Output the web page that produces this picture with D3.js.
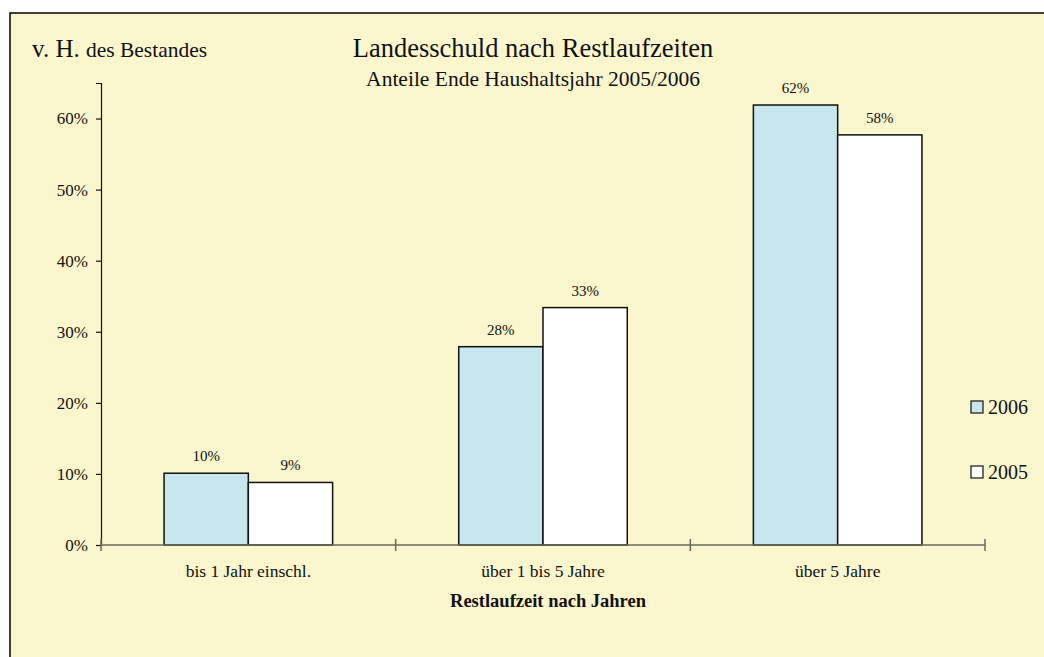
<!DOCTYPE html>
<html>
<head>
<meta charset="utf-8">
<script src="https://cdnjs.cloudflare.com/ajax/libs/d3/7.8.5/d3.min.js"></script>
<style>
  body { margin: 0; background: #fff; }
  svg text { font-family: "Liberation Serif", "Times New Roman", serif; fill: #111; }
</style>
</head>
<body>
<svg id="chart" width="1044" height="657"></svg>
<script>
//chart data
const categories = ['bis 1 Jahr einschl.', 'über 1 bis 5 Jahre', 'über 5 Jahre'];
const seriesNames = ['2006', '2005'];
const values2006 = [0.101, 0.279, 0.619];
const values2005 = [0.088, 0.334, 0.577];
const yTicks = [0, 0.1, 0.2, 0.3, 0.4, 0.5, 0.6];
const seriesColors = ['#c8e6ee', '#ffffff'];

(function(){
  const svg = d3.select('#chart');

  //frame dimensions
  const left = 101, right = 985, top = 83, bottom = 545;

  //background panel, runs past the window edge like the original
  svg.append('rect')
    .attr('x', 10).attr('y', 13)
    .attr('width', 1050).attr('height', 660)
    .attr('fill', '#faf6ce')
    .attr('stroke', '#000')
    .attr('stroke-width', 1.5);

  const y = d3.scaleLinear().domain([0, 0.65]).range([bottom, top]);
  const x0 = d3.scaleBand().domain(categories).range([left, right]);
  const gap = x0.bandwidth() * 0.214;
  const x1 = d3.scaleBand().domain(seriesNames).range([gap, x0.bandwidth() - gap]);

  const rows = categories.map((c, i) => ({cat: c, vals: [values2006[i], values2005[i]]}));

  //bars
  const groups = svg.selectAll('.group')
    .data(rows)
    .enter().append('g')
    .attr('class', 'group')
    .attr('transform', d => 'translate(' + x0(d.cat) + ',0)');

  groups.selectAll('rect')
    .data(d => d.vals.map((v, j) => ({name: seriesNames[j], v: v, j: j})))
    .enter().append('rect')
    .attr('x', d => x1(d.name))
    .attr('y', d => y(d.v))
    .attr('width', x1.bandwidth())
    .attr('height', d => bottom - y(d.v))
    .attr('fill', d => seriesColors[d.j])
    .attr('stroke', '#111')
    .attr('stroke-width', 1.5);

  groups.selectAll('.lbl')
    .data(d => d.vals.map((v, j) => ({name: seriesNames[j], v: v})))
    .enter().append('text')
    .attr('class', 'lbl')
    .attr('x', d => x1(d.name) + x1.bandwidth() / 2)
    .attr('y', d => y(d.v) - 12)
    .attr('text-anchor', 'middle')
    .style('font-size', '15px')
    .text(d => Math.round(d.v * 100) + '%');

  //y axis
  const yAxis = d3.axisLeft(y).tickValues(yTicks).tickSize(5).tickPadding(8)
    .tickFormat(d => Math.round(d * 100) + '%');
  const ya = svg.append('g')
    .attr('transform', 'translate(' + left + ',0)')
    .call(yAxis);
  ya.select('.domain').attr('stroke', '#111').attr('stroke-width', 1.2);
  ya.selectAll('.tick line').attr('stroke', '#111').attr('stroke-width', 1.2);
  ya.selectAll('.tick text').style('font-size', '17px').attr('fill', '#111')
    .style('font-family', '"Liberation Serif", "Times New Roman", serif');

  //x axis line and category separators
  svg.append('line')
    .attr('x1', left).attr('x2', right)
    .attr('y1', bottom).attr('y2', bottom)
    .attr('stroke', '#6a6a5a').attr('stroke-width', 1.5);

  const seps = categories.map(c => x0(c)).concat([right]);
  svg.selectAll('.sep')
    .data(seps)
    .enter().append('line')
    .attr('x1', d => d).attr('x2', d => d)
    .attr('y1', bottom - 6).attr('y2', bottom + 6)
    .attr('stroke', '#6a6a5a').attr('stroke-width', 1.5);

  svg.selectAll('.cat')
    .data(categories)
    .enter().append('text')
    .attr('x', d => x0(d) + x0.bandwidth() / 2)
    .attr('y', 577)
    .attr('text-anchor', 'middle')
    .style('font-size', '17.5px')
    .text(d => d);

  svg.append('text')
    .attr('x', (left + right) / 2 + 5)
    .attr('y', 607)
    .attr('text-anchor', 'middle')
    .style('font-size', '18.5px')
    .style('font-weight', 'bold')
    .text('Restlaufzeit nach Jahren');

  //titles
  svg.append('text')
    .attr('x', 533).attr('y', 57)
    .attr('text-anchor', 'middle')
    .style('font-size', '26.5px')
    .text('Landesschuld nach Restlaufzeiten');
  svg.append('text')
    .attr('x', 533).attr('y', 86)
    .attr('text-anchor', 'middle')
    .style('font-size', '21.5px')
    .text('Anteile Ende Haushaltsjahr 2005/2006');

  const unit = svg.append('text').attr('x', 32).attr('y', 57);
  unit.append('tspan').style('font-size', '25px').text('v. H. ');
  unit.append('tspan').style('font-size', '21.5px').text('des Bestandes');

  //legend
  const legend = svg.selectAll('.legend')
    .data(seriesNames)
    .enter().append('g')
    .attr('transform', (d, i) => 'translate(971,' + (401 + i * 65) + ')');
  legend.append('rect')
    .attr('width', 12).attr('height', 12)
    .attr('fill', (d, i) => seriesColors[i])
    .attr('stroke', '#111').attr('stroke-width', 1.2);
  legend.append('text')
    .attr('x', 17).attr('y', 13)
    .style('font-size', '20px')
    .text(d => d);
})();
</script>
</body>
</html>
